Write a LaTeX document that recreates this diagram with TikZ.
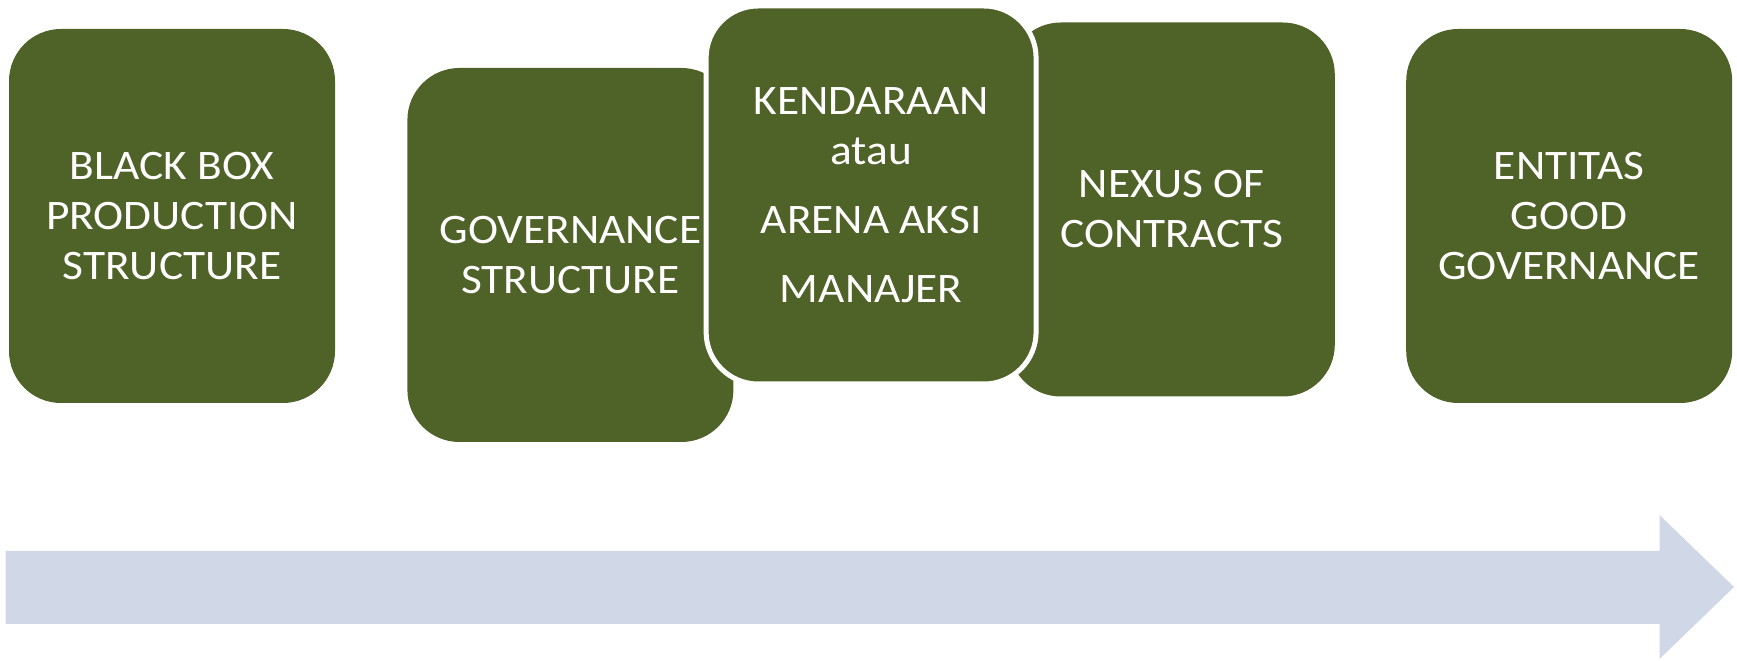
\documentclass[tikz,border=0pt]{standalone}
\usepackage{fontspec}
\setmainfont{Carlito}[FakeStretch=1.08]
\usetikzlibrary{positioning}
\definecolor{olivebox}{HTML}{4F6228}
\definecolor{arrowgray}{HTML}{D0D8E8}

\begin{document}
\begin{tikzpicture}[x=1pt, y=1pt, node distance=72pt]
	\tikzstyle{stage}=[rectangle, rounded corners=52pt, fill=olivebox, text=white, minimum width=326pt, minimum height=374pt, inner sep=0pt, align=center, font=\fontsize{42}{50}\selectfont]
	\useasboundingbox (0,0) rectangle (1737,661);
	% time line under the stages
	\fill[arrowgray] (5.5,37) -- (1659.5,37) -- (1659.5,2) -- (1734,74) -- (1659.5,146) -- (1659.5,110) -- (5.5,110) -- cycle;
	\node[stage]    (A) at (172,445)                      {BLACK BOX\\PRODUCTION\\STRUCTURE};
	\node[stage]    (B) [right=of A, yshift=-39pt]        {GOVERNANCE\\STRUCTURE};
	\node[stage]    (D) [right=275pt of B, yshift=45.5pt] {NEXUS OF\\CONTRACTS};
	% middle stage sits on top, with a white rim
	\node[stage, draw=white, line width=5pt, minimum width=330pt, minimum height=378pt]
	                (C) [right=-30pt of B, yshift=60pt]   {KENDARAAN\\atau\\[19pt]ARENA AKSI\\[19pt]MANAJER};
	\node[stage]    (E) [right=71pt of D, yshift=-6.5pt]  {ENTITAS\\GOOD\\GOVERNANCE};
\end{tikzpicture}
\end{document}
